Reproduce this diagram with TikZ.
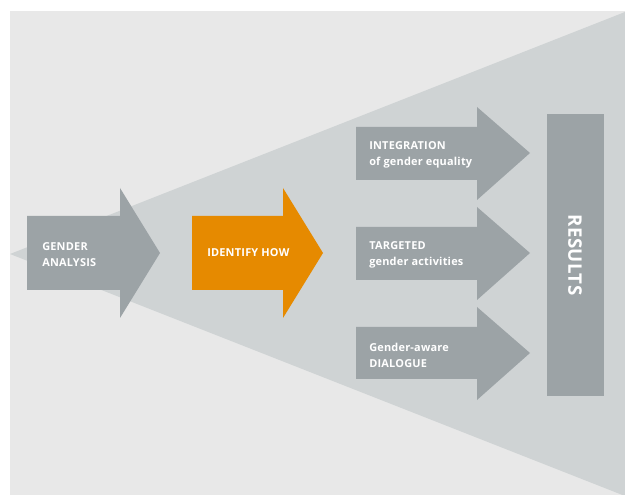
\documentclass[tikz,border=0pt]{standalone}
\usepackage{fontspec}
\setmainfont{Open Sans}[LetterSpace=2.0]
\definecolor{bggray}{RGB}{232,232,232}
\definecolor{conegray}{RGB}{207,211,212}
\definecolor{arrowgray}{RGB}{156,163,166}
\definecolor{idorange}{RGB}{230,138,0}
\tikzset{
  label text/.style={anchor=west,inner sep=0pt,align=left,text=white,
    font=\bfseries\fontsize{8.2}{12}\selectfont},
}

\begin{document}
\begin{tikzpicture}[x=0.75pt,y=0.75pt,yscale=-1,xscale=1]
\useasboundingbox (0,0) rectangle (625,495);

%Background
\fill [bggray] (10,11) rectangle (625,495);
%Cone
\fill [conegray] (10,254) -- (625,12) -- (625,496) -- cycle;

%Arrow: gender analysis
\fill [arrowgray] (27,216) -- (120,216) -- (120,188) -- (160,253) -- (120,318) -- (120,290) -- (27,290) -- cycle;
%Arrow: identify how
\fill [idorange] (192,216) -- (283,216) -- (283,188) -- (323,253) -- (283,318) -- (283,290) -- (192,290) -- cycle;
%Arrow: integration
\fill [arrowgray] (356,127) -- (477,127) -- (477,107) -- (530,153) -- (477,200) -- (477,180) -- (356,180) -- cycle;
%Arrow: targeted
\fill [arrowgray] (356,227) -- (477,227) -- (477,207) -- (530,253) -- (477,300) -- (477,280) -- (356,280) -- cycle;
%Arrow: dialogue
\fill [arrowgray] (356,327) -- (477,327) -- (477,307) -- (530,353) -- (477,400) -- (477,379) -- (356,379) -- cycle;
%Results bar
\fill [arrowgray] (547,114) rectangle (604,396);

% Text Node
\node (gender) [label text] at (42,255) {GENDER\\ANALYSIS};
% Text Node
\node (identify) [label text] at (207,253) {IDENTIFY HOW};
% Text Node
\node (integration) [label text] at (369,155) {INTEGRATION\\of gender equality};
% Text Node
\node (targeted) [label text] at (369,255) {TARGETED\\gender activities};
% Text Node
\node (dialogue) [label text] at (369,355) {Gender-aware\\DIALOGUE};
% Text Node
\node (results) [inner sep=0pt,text=white,rotate=-90,font=\bfseries\fontsize{14}{16}\selectfont] at (575,255) {RESULTS};

\end{tikzpicture}
\end{document}
